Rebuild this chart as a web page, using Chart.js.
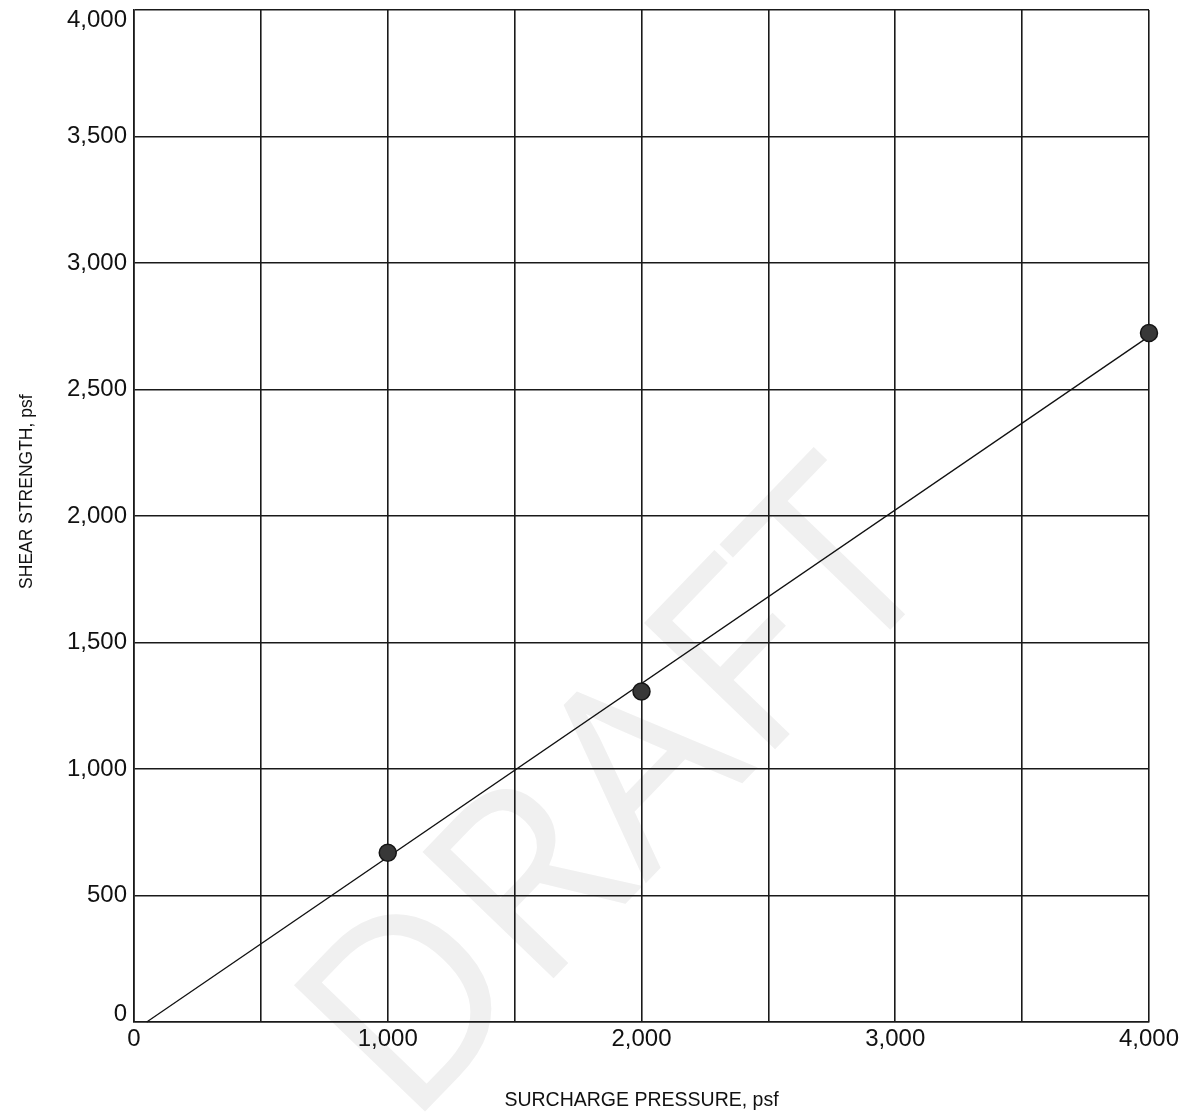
<!DOCTYPE html>
<html>
<head>
<meta charset="utf-8">
<script src="https://cdn.jsdelivr.net/npm/chart.js@4"></script>
<style>
  html, body { margin: 0; padding: 0; background: #ffffff; }
  #wrap { position: relative; width: 1189px; height: 1116px; }
</style>
</head>
<body>
<div id="wrap"><canvas id="c" width="1189" height="1116"></canvas></div>
<script>
// Data
const surchargePressure = [1000, 2000, 4000];        // psf
const shearStrength     = [669, 1306, 2723];         // psf
const fitLineX = [50, 4000];                         // best-fit line ends
const fitLineY = [0, 2710];
const xTickValues = [0, 1000, 2000, 3000, 4000];
const yTickValues = [0, 500, 1000, 1500, 2000, 2500, 3000, 3500, 4000];
const xTitle = 'SURCHARGE PRESSURE, psf';
const yTitle = 'SHEAR STRENGTH, psf';
const watermarkText = 'DRAFT';

const fmt = v => Number(v).toLocaleString('en-US');
const tickFamily = "'Liberation Sans', Arial, sans-serif";

const watermark = {
  id: 'watermark',
  beforeDraw(chart) {
    const ctx = chart.ctx;
    ctx.save();
    ctx.translate(625, 800);
    ctx.rotate(-46 * Math.PI / 180);
    ctx.font = "400 255px 'Open Sans', 'DejaVu Sans', sans-serif";
    ctx.fillStyle = '#f0f0f0';
    ctx.textAlign = 'center';
    ctx.textBaseline = 'middle';
    ctx.fillText(watermarkText, 0, 0);
    ctx.restore();
  }
};

const gridColor = '#1a1a1a';

new Chart(document.getElementById('c'), {
  type: 'scatter',
  data: {
    datasets: [
      {
        type: 'line',
        data: fitLineX.map((x, i) => ({ x: x, y: fitLineY[i] })),
        borderColor: '#111111',
        borderWidth: 1.3,
        pointRadius: 0,
        fill: false,
        clip: false,
        order: 2
      },
      {
        data: surchargePressure.map((x, i) => ({ x: x, y: shearStrength[i] })),
        backgroundColor: '#383838',
        borderColor: '#151515',
        borderWidth: 1.5,
        pointRadius: 8.5,
        clip: false,
        order: 1
      }
    ]
  },
  options: {
    responsive: false,
    animation: false,
    layout: { padding: { top: 8, right: 40, left: 0, bottom: 0 } },
    plugins: { legend: { display: false }, tooltip: { enabled: false } },
    scales: {
      x: {
        type: 'linear',
        min: 0, max: 4000,
        afterFit(scale) {
          scale.height = 94;
          scale.paddingLeft = 0; scale.paddingRight = 0;
        },
        afterBuildTicks(scale) {
          const t = [];
          for (let v = 0; v <= 4000; v += 500) t.push({ value: v });
          scale.ticks = t;
        },
        ticks: {
          autoSkip: false,
          maxRotation: 0,
          padding: 3,
          color: '#111111',
          font: { family: tickFamily, size: 24 },
          callback: v => xTickValues.includes(v) ? fmt(v) : ''
        },
        grid: { color: gridColor, lineWidth: 1.6, drawTicks: false },
        border: { color: gridColor, width: 1.6 },
        title: {
          display: true,
          text: xTitle,
          color: '#111111',
          font: { family: tickFamily, size: 19.5 },
          padding: { top: 0, bottom: 4 }
        }
      },
      y: {
        type: 'linear',
        min: 0, max: 4000,
        afterFit(scale) {
          scale.width = 134;
          scale.paddingTop = 0; scale.paddingBottom = 0;
        },
        afterBuildTicks(scale) {
          scale.ticks = yTickValues.map(v => ({ value: v }));
        },
        ticks: {
          autoSkip: false,
          padding: 7,
          color: '#111111',
          font: ctx => {
            const v = ctx.tick ? ctx.tick.value : null;
            if (v === 4000) return { family: tickFamily, size: 24, lineHeight: 0.85 };
            if (v === 0) return { family: tickFamily, size: 24, lineHeight: 0.67 };
            return { family: tickFamily, size: 24 };
          },
          callback: v => v === 4000 ? ['', fmt(v)] : (v === 0 ? [fmt(v), ''] : fmt(v))
        },
        grid: { color: gridColor, lineWidth: 1.6, drawTicks: false },
        border: { color: gridColor, width: 1.6 },
        title: {
          display: true,
          text: '\u00a0'.repeat(10) + yTitle,
          color: '#111111',
          font: { family: tickFamily, size: 17.5 },
          padding: { top: 17, bottom: 0 }
        }
      }
    }
  },
  plugins: [watermark]
});
</script>
</body>
</html>
